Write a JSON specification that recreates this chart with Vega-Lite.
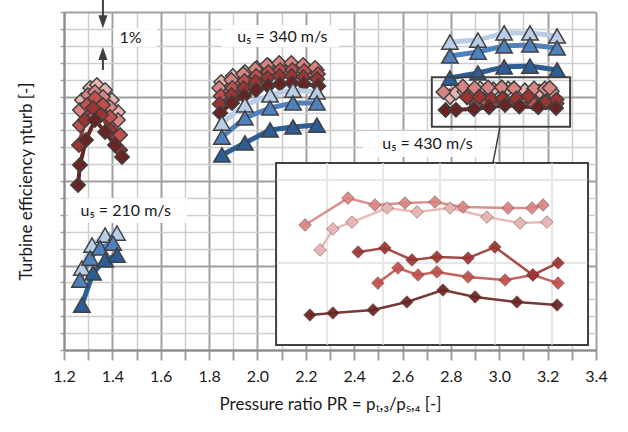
{
  "$schema": "https://vega.github.io/schema/vega-lite/v6.json",
  "width": 532,
  "height": 338,
  "autosize": {"type": "none"},
  "padding": {"left": 64, "top": 12, "right": 32, "bottom": 82},
  "background": "white",
  "config": {"view": {"stroke": null}, "font": "Lato"},
  "datasets": {
    "pts": [
      {"g":"210r1","s":"r1","k":"d","x":1.274,"y":14.79},{"g":"210r1","s":"r1","k":"d","x":1.308,"y":15.50},{"g":"210r1","s":"r1","k":"d","x":1.336,"y":15.68},{"g":"210r1","s":"r1","k":"d","x":1.370,"y":15.38},{"g":"210r1","s":"r1","k":"d","x":1.398,"y":14.79},{"g":"210r1","s":"r1","k":"d","x":1.423,"y":14.08},
      {"g":"210r2","s":"r2","k":"d","x":1.266,"y":14.20},{"g":"210r2","s":"r2","k":"d","x":1.299,"y":15.09},{"g":"210r2","s":"r2","k":"d","x":1.328,"y":15.27},{"g":"210r2","s":"r2","k":"d","x":1.361,"y":14.97},{"g":"210r2","s":"r2","k":"d","x":1.390,"y":14.38},{"g":"210r2","s":"r2","k":"d","x":1.423,"y":13.61},
      {"g":"210r3","s":"r3","k":"d","x":1.266,"y":13.31},{"g":"210r3","s":"r3","k":"d","x":1.295,"y":14.50},{"g":"210r3","s":"r3","k":"d","x":1.328,"y":14.91},{"g":"210r3","s":"r3","k":"d","x":1.361,"y":14.50},{"g":"210r3","s":"r3","k":"d","x":1.390,"y":13.79},{"g":"210r3","s":"r3","k":"d","x":1.432,"y":12.72},
      {"g":"210r4","s":"r4","k":"d","x":1.262,"y":12.13},{"g":"210r4","s":"r4","k":"d","x":1.287,"y":13.61},{"g":"210r4","s":"r4","k":"d","x":1.320,"y":14.32},{"g":"210r4","s":"r4","k":"d","x":1.353,"y":13.91},{"g":"210r4","s":"r4","k":"d","x":1.390,"y":13.02},{"g":"210r4","s":"r4","k":"d","x":1.432,"y":11.83},
      {"g":"210r5","s":"r5","k":"d","x":1.258,"y":9.76},{"g":"210r5","s":"r5","k":"d","x":1.266,"y":10.95},{"g":"210r5","s":"r5","k":"d","x":1.291,"y":12.43},{"g":"210r5","s":"r5","k":"d","x":1.328,"y":13.61},{"g":"210r5","s":"r5","k":"d","x":1.370,"y":12.90},{"g":"210r5","s":"r5","k":"d","x":1.411,"y":12.13},{"g":"210r5","s":"r5","k":"d","x":1.440,"y":11.42},

      {"g":"340r1","s":"r1","k":"d","x":1.850,"y":15.86},{"g":"340r1","s":"r1","k":"d","x":1.898,"y":16.21},{"g":"340r1","s":"r1","k":"d","x":1.948,"y":16.45},{"g":"340r1","s":"r1","k":"d","x":1.997,"y":16.69},{"g":"340r1","s":"r1","k":"d","x":2.047,"y":16.80},{"g":"340r1","s":"r1","k":"d","x":2.096,"y":16.86},{"g":"340r1","s":"r1","k":"d","x":2.146,"y":16.86},{"g":"340r1","s":"r1","k":"d","x":2.195,"y":16.75},{"g":"340r1","s":"r1","k":"d","x":2.245,"y":16.57},
      {"g":"340r2","s":"r2","k":"d","x":1.842,"y":15.50},{"g":"340r2","s":"r2","k":"d","x":1.892,"y":15.98},{"g":"340r2","s":"r2","k":"d","x":1.941,"y":16.33},{"g":"340r2","s":"r2","k":"d","x":1.991,"y":16.63},{"g":"340r2","s":"r2","k":"d","x":2.040,"y":16.86},{"g":"340r2","s":"r2","k":"d","x":2.090,"y":16.98},{"g":"340r2","s":"r2","k":"d","x":2.140,"y":16.98},{"g":"340r2","s":"r2","k":"d","x":2.189,"y":16.86},{"g":"340r2","s":"r2","k":"d","x":2.238,"y":16.69},
      {"g":"340r3","s":"r3","k":"d","x":1.848,"y":15.03},{"g":"340r3","s":"r3","k":"d","x":1.896,"y":15.50},{"g":"340r3","s":"r3","k":"d","x":1.946,"y":15.92},{"g":"340r3","s":"r3","k":"d","x":1.995,"y":16.21},{"g":"340r3","s":"r3","k":"d","x":2.045,"y":16.45},{"g":"340r3","s":"r3","k":"d","x":2.094,"y":16.57},{"g":"340r3","s":"r3","k":"d","x":2.144,"y":16.57},{"g":"340r3","s":"r3","k":"d","x":2.193,"y":16.51},{"g":"340r3","s":"r3","k":"d","x":2.250,"y":16.33},
      {"g":"340r4","s":"r4","k":"d","x":1.844,"y":14.56},{"g":"340r4","s":"r4","k":"d","x":1.893,"y":15.09},{"g":"340r4","s":"r4","k":"d","x":1.943,"y":15.50},{"g":"340r4","s":"r4","k":"d","x":1.992,"y":15.86},{"g":"340r4","s":"r4","k":"d","x":2.042,"y":16.09},{"g":"340r4","s":"r4","k":"d","x":2.092,"y":16.21},{"g":"340r4","s":"r4","k":"d","x":2.141,"y":16.21},{"g":"340r4","s":"r4","k":"d","x":2.190,"y":16.15},{"g":"340r4","s":"r4","k":"d","x":2.247,"y":16.04},
      {"g":"340r5","s":"r5","k":"d","x":1.846,"y":14.02},{"g":"340r5","s":"r5","k":"d","x":1.895,"y":14.62},{"g":"340r5","s":"r5","k":"d","x":1.945,"y":15.03},{"g":"340r5","s":"r5","k":"d","x":1.994,"y":15.38},{"g":"340r5","s":"r5","k":"d","x":2.044,"y":15.62},{"g":"340r5","s":"r5","k":"d","x":2.093,"y":15.74},{"g":"340r5","s":"r5","k":"d","x":2.143,"y":15.80},{"g":"340r5","s":"r5","k":"d","x":2.192,"y":15.74},{"g":"340r5","s":"r5","k":"d","x":2.252,"y":15.62},

      {"g":"430r1","s":"r1","k":"d","x":2.797,"y":14.97},{"g":"430r1","s":"r1","k":"d","x":2.821,"y":15.22},{"g":"430r1","s":"r1","k":"d","x":2.856,"y":15.30},{"g":"430r1","s":"r1","k":"d","x":2.921,"y":15.47},{"g":"430r1","s":"r1","k":"d","x":2.976,"y":15.42},{"g":"430r1","s":"r1","k":"d","x":3.037,"y":15.47},{"g":"430r1","s":"r1","k":"d","x":3.106,"y":15.36},{"g":"430r1","s":"r1","k":"d","x":3.167,"y":15.29},{"g":"430r1","s":"r1","k":"d","x":3.217,"y":15.30},
      {"g":"430r2","s":"r2","k":"d","x":2.769,"y":15.27},{"g":"430r2","s":"r2","k":"d","x":2.849,"y":15.59},{"g":"430r2","s":"r2","k":"d","x":2.898,"y":15.50},{"g":"430r2","s":"r2","k":"d","x":2.954,"y":15.53},{"g":"430r2","s":"r2","k":"d","x":3.010,"y":15.54},{"g":"430r2","s":"r2","k":"d","x":3.061,"y":15.48},{"g":"430r2","s":"r2","k":"d","x":3.144,"y":15.47},{"g":"430r2","s":"r2","k":"d","x":3.189,"y":15.47},{"g":"430r2","s":"r2","k":"d","x":3.209,"y":15.50},
      {"g":"430r3","s":"r3","k":"d","x":2.904,"y":14.58},{"g":"430r3","s":"r3","k":"d","x":2.941,"y":14.76},{"g":"430r3","s":"r3","k":"d","x":2.978,"y":14.67},{"g":"430r3","s":"r3","k":"d","x":3.013,"y":14.71},{"g":"430r3","s":"r3","k":"d","x":3.070,"y":14.65},{"g":"430r3","s":"r3","k":"d","x":3.139,"y":14.62},{"g":"430r3","s":"r3","k":"d","x":3.191,"y":14.67},{"g":"430r3","s":"r3","k":"d","x":3.237,"y":14.58},
      {"g":"430r4","s":"r4","k":"d","x":2.867,"y":14.95},{"g":"430r4","s":"r4","k":"d","x":2.917,"y":14.99},{"g":"430r4","s":"r4","k":"d","x":2.967,"y":14.85},{"g":"430r4","s":"r4","k":"d","x":3.013,"y":14.89},{"g":"430r4","s":"r4","k":"d","x":3.070,"y":14.88},{"g":"430r4","s":"r4","k":"d","x":3.120,"y":15.01},{"g":"430r4","s":"r4","k":"d","x":3.191,"y":14.67},{"g":"430r4","s":"r4","k":"d","x":3.237,"y":14.82},
      {"g":"430r5","s":"r5","k":"d","x":2.778,"y":14.20},{"g":"430r5","s":"r5","k":"d","x":2.821,"y":14.22},{"g":"430r5","s":"r5","k":"d","x":2.895,"y":14.26},{"g":"430r5","s":"r5","k":"d","x":2.958,"y":14.36},{"g":"430r5","s":"r5","k":"d","x":3.024,"y":14.50},{"g":"430r5","s":"r5","k":"d","x":3.083,"y":14.41},{"g":"430r5","s":"r5","k":"d","x":3.161,"y":14.36},{"g":"430r5","s":"r5","k":"d","x":3.235,"y":14.32},

      {"g":"210b1","s":"b1","k":"t","x":1.274,"y":4.85},{"g":"210b1","s":"b1","k":"t","x":1.316,"y":6.21},{"g":"210b1","s":"b1","k":"t","x":1.370,"y":6.80},{"g":"210b1","s":"b1","k":"t","x":1.419,"y":6.92},
      {"g":"210b2","s":"b2","k":"t","x":1.266,"y":4.14},{"g":"210b2","s":"b2","k":"t","x":1.308,"y":5.44},{"g":"210b2","s":"b2","k":"t","x":1.349,"y":6.04},{"g":"210b2","s":"b2","k":"t","x":1.403,"y":6.33},
      {"g":"210b3","s":"b3","k":"t","x":1.274,"y":2.66},{"g":"210b3","s":"b3","k":"t","x":1.320,"y":4.56},{"g":"210b3","s":"b3","k":"t","x":1.370,"y":5.33},{"g":"210b3","s":"b3","k":"t","x":1.419,"y":5.62},
      {"g":"340b1","s":"b1","k":"t","x":1.853,"y":13.43},{"g":"340b1","s":"b1","k":"t","x":1.948,"y":14.50},{"g":"340b1","s":"b1","k":"t","x":2.052,"y":15.09},{"g":"340b1","s":"b1","k":"t","x":2.147,"y":15.38},{"g":"340b1","s":"b1","k":"t","x":2.246,"y":15.27},
      {"g":"340b2","s":"b2","k":"t","x":1.853,"y":12.60},{"g":"340b2","s":"b2","k":"t","x":1.948,"y":13.73},{"g":"340b2","s":"b2","k":"t","x":2.052,"y":14.32},{"g":"340b2","s":"b2","k":"t","x":2.147,"y":14.62},{"g":"340b2","s":"b2","k":"t","x":2.246,"y":14.62},
      {"g":"340b3","s":"b3","k":"t","x":1.853,"y":11.54},{"g":"340b3","s":"b3","k":"t","x":1.948,"y":12.25},{"g":"340b3","s":"b3","k":"t","x":2.052,"y":13.02},{"g":"340b3","s":"b3","k":"t","x":2.147,"y":13.20},{"g":"340b3","s":"b3","k":"t","x":2.246,"y":13.31},
      {"g":"430b1","s":"b1","k":"t","x":2.796,"y":18.22},{"g":"430b1","s":"b1","k":"t","x":2.912,"y":18.34},{"g":"430b1","s":"b1","k":"t","x":3.020,"y":18.76},{"g":"430b1","s":"b1","k":"t","x":3.127,"y":18.76},{"g":"430b1","s":"b1","k":"t","x":3.239,"y":18.58},
      {"g":"430b2","s":"b2","k":"t","x":2.796,"y":17.40},{"g":"430b2","s":"b2","k":"t","x":2.912,"y":17.63},{"g":"430b2","s":"b2","k":"t","x":3.020,"y":17.99},{"g":"430b2","s":"b2","k":"t","x":3.127,"y":18.05},{"g":"430b2","s":"b2","k":"t","x":3.239,"y":17.87},
      {"g":"430b3","s":"b3","k":"t","x":2.796,"y":16.09},{"g":"430b3","s":"b3","k":"t","x":2.912,"y":16.39},{"g":"430b3","s":"b3","k":"t","x":3.020,"y":16.75},{"g":"430b3","s":"b3","k":"t","x":3.127,"y":16.80},{"g":"430b3","s":"b3","k":"t","x":3.239,"y":16.57},

      {"g":"ir1","s":"r1","k":"i","x":2.259,"y":5.92},{"g":"ir1","s":"r1","k":"i","x":2.312,"y":7.16},{"g":"ir1","s":"r1","k":"i","x":2.391,"y":7.57},{"g":"ir1","s":"r1","k":"i","x":2.536,"y":8.40},{"g":"ir1","s":"r1","k":"i","x":2.660,"y":8.17},{"g":"ir1","s":"r1","k":"i","x":2.796,"y":8.40},{"g":"ir1","s":"r1","k":"i","x":2.949,"y":7.87},{"g":"ir1","s":"r1","k":"i","x":3.086,"y":7.51},{"g":"ir1","s":"r1","k":"i","x":3.197,"y":7.57},
      {"g":"ir2","s":"r2","k":"i","x":2.197,"y":7.40},{"g":"ir2","s":"r2","k":"i","x":2.374,"y":8.99},{"g":"ir2","s":"r2","k":"i","x":2.486,"y":8.58},{"g":"ir2","s":"r2","k":"i","x":2.610,"y":8.70},{"g":"ir2","s":"r2","k":"i","x":2.734,"y":8.76},{"g":"ir2","s":"r2","k":"i","x":2.850,"y":8.46},{"g":"ir2","s":"r2","k":"i","x":3.036,"y":8.40},{"g":"ir2","s":"r2","k":"i","x":3.135,"y":8.40},{"g":"ir2","s":"r2","k":"i","x":3.181,"y":8.58},
      {"g":"ir3","s":"r3","k":"i","x":2.498,"y":3.96},{"g":"ir3","s":"r3","k":"i","x":2.581,"y":4.85},{"g":"ir3","s":"r3","k":"i","x":2.664,"y":4.44},{"g":"ir3","s":"r3","k":"i","x":2.742,"y":4.62},{"g":"ir3","s":"r3","k":"i","x":2.871,"y":4.32},{"g":"ir3","s":"r3","k":"i","x":3.024,"y":4.14},{"g":"ir3","s":"r3","k":"i","x":3.139,"y":4.44},{"g":"ir3","s":"r3","k":"i","x":3.243,"y":3.96},
      {"g":"ir4","s":"r4","k":"i","x":2.416,"y":5.80},{"g":"ir4","s":"r4","k":"i","x":2.527,"y":6.04},{"g":"ir4","s":"r4","k":"i","x":2.639,"y":5.33},{"g":"ir4","s":"r4","k":"i","x":2.742,"y":5.50},{"g":"ir4","s":"r4","k":"i","x":2.871,"y":5.44},{"g":"ir4","s":"r4","k":"i","x":2.982,"y":6.09},{"g":"ir4","s":"r4","k":"i","x":3.139,"y":4.44},{"g":"ir4","s":"r4","k":"i","x":3.243,"y":5.15},
      {"g":"ir5","s":"r5","k":"i","x":2.217,"y":2.07},{"g":"ir5","s":"r5","k":"i","x":2.312,"y":2.19},{"g":"ir5","s":"r5","k":"i","x":2.478,"y":2.37},{"g":"ir5","s":"r5","k":"i","x":2.618,"y":2.84},{"g":"ir5","s":"r5","k":"i","x":2.767,"y":3.55},{"g":"ir5","s":"r5","k":"i","x":2.900,"y":3.14},{"g":"ir5","s":"r5","k":"i","x":3.073,"y":2.84},{"g":"ir5","s":"r5","k":"i","x":3.239,"y":2.66}
    ],
    "boxes": [
      {"t":"label","x":1.853,"x2":2.337,"y":17.93,"y2":19.23},
      {"t":"label","x":1.217,"x2":1.709,"y":7.51,"y2":8.99},
      {"t":"label","x":2.436,"x2":2.962,"y":11.42,"y2":12.96},
      {"t":"label","x":1.403,"x2":1.585,"y":17.93,"y2":19.05},
      {"t":"zoom","x":2.721,"x2":3.293,"y":13.21,"y2":16.14},
      {"t":"inset","x":2.077,"x2":3.367,"y":0.30,"y2":11.07}
    ],
    "labels": [
      {"text":"u₅ = 340 m/s","x":2.103,"y":18.55},
      {"text":"u₅ = 210 m/s","x":1.455,"y":8.20},
      {"text":"u₅ = 430 m/s","x":2.703,"y":12.19},
      {"text":"1%","x":1.475,"y":18.46}
    ],
    "rules": [
      {"t":"arrow","x":1.361,"y":20.71,"x2":1.361,"y2":19.42},
      {"t":"arrow","x":1.361,"y":17.54,"x2":1.361,"y2":16.57},
      {"t":"conn","x":3.003,"y":13.21,"x2":2.974,"y2":11.07},
      {"t":"igrid","x":2.288,"y":0.32,"x2":2.288,"y2":11.05},
      {"t":"igrid","x":2.519,"y":0.32,"x2":2.519,"y2":11.05},
      {"t":"igrid","x":2.755,"y":0.32,"x2":2.755,"y2":11.05},
      {"t":"igrid","x":2.982,"y":0.32,"x2":2.982,"y2":11.05},
      {"t":"igrid","x":3.218,"y":0.32,"x2":3.218,"y2":11.05},
      {"t":"igrid","x":2.08,"y":10.06,"x2":3.364,"y2":10.06},
      {"t":"igrid","x":2.08,"y":5.15,"x2":3.364,"y2":5.15}
    ],
    "heads": [
      {"dir":"down","x":1.361,"y":19.42},
      {"dir":"up","x":1.361,"y":17.54}
    ]
  },
  "encoding": {
    "x": {
      "field": "x", "type": "quantitative",
      "scale": {"domain": [1.2, 3.4], "nice": false, "zero": false},
      "axis": {
        "values": [1.2,1.3,1.4,1.5,1.6,1.7,1.8,1.9,2.0,2.1,2.2,2.3,2.4,2.5,2.6,2.7,2.8,2.9,3.0,3.1,3.2,3.3,3.4],
        "title": "Pressure ratio  PR = pₜ,₃/pₛ,₄  [-]",
        "labelExpr": "round(datum.value*10) % 2 == 0 ? format(datum.value, '.1f') : ''",
        "labelFontSize": 16, "labelColor": "#1a1a1a", "labelPadding": 8, "labelFlush": false, "labelOverlap": false,
        "titleFontSize": 17, "titleFontWeight": "normal", "titleColor": "#1a1a1a", "titlePadding": 12,
        "grid": true,
        "gridColor": {"condition": {"test": "round(datum.value*10) % 2 == 0", "value": "#a0a0a0"}, "value": "#cdcdcd"},
        "gridWidth": {"condition": {"test": "round(datum.value*10) % 2 == 0", "value": 2}, "value": 1.5},
        "tickColor": "#a0a0a0", "tickSize": 10, "tickWidth": 2,
        "domainColor": "#8c8c8c", "domainWidth": 2
      }
    },
    "y": {
      "field": "y", "type": "quantitative",
      "scale": {"domain": [0, 20], "nice": false, "zero": false},
      "axis": {
        "values": [0,1,2,3,4,5,6,7,8,9,10,11,12,13,14,15,16,17,18,19,20],
        "labels": false,
        "title": "Turbine efficiency  ηturb  [-]",
        "titleFontSize": 17, "titleFontWeight": "normal", "titleColor": "#1a1a1a", "titlePadding": 24,
        "grid": true,
        "gridColor": {"condition": {"test": "datum.value % 5 == 0", "value": "#a0a0a0"}, "value": "#cdcdcd"},
        "gridWidth": {"condition": {"test": "datum.value % 5 == 0", "value": 2}, "value": 1.5},
        "tickColor": "#a0a0a0", "tickSize": 4, "tickWidth": 1.5,
        "domainColor": "#8c8c8c", "domainWidth": 2
      }
    }
  },
  "layer": [
    {
      "data": {"name": "pts"},
      "transform": [{"filter": "datum.k == 'd'"}],
      "mark": {"type": "line", "strokeWidth": 4},
      "encoding": {
        "detail": {"field": "g"},
        "color": {"field": "s", "type": "nominal", "legend": null,
          "scale": {"domain": ["b1","b2","b3","r1","r2","r3","r4","r5"], "range": ["#b9cde6","#4f81bd","#2c5d95","#e6b3b1","#d88482","#c0504d","#9a3532","#682422"]}}
      }
    },
    {
      "data": {"name": "pts"},
      "transform": [{"filter": "datum.k == 'd'"}],
      "mark": {"type": "point", "shape": "diamond", "filled": true, "size": 210, "stroke": "#404040", "strokeWidth": 1.5, "opacity": 1},
      "encoding": {
        "color": {"field": "s", "type": "nominal", "legend": null,
          "scale": {"domain": ["b1","b2","b3","r1","r2","r3","r4","r5"], "range": ["#b9cde6","#4f81bd","#2c5d95","#e6b3b1","#d88482","#c0504d","#9a3532","#682422"]}}
      }
    },
    {
      "data": {"name": "pts"},
      "transform": [{"filter": "datum.k == 't'"}],
      "mark": {"type": "line", "strokeWidth": 5},
      "encoding": {
        "detail": {"field": "g"},
        "color": {"field": "s", "type": "nominal", "legend": null,
          "scale": {"domain": ["b1","b2","b3","r1","r2","r3","r4","r5"], "range": ["#b9cde6","#4f81bd","#2c5d95","#e6b3b1","#d88482","#c0504d","#9a3532","#682422"]}}
      }
    },
    {
      "data": {"name": "pts"},
      "transform": [{"filter": "datum.k == 't'"}],
      "mark": {"type": "point", "shape": "triangle-up", "filled": true, "size": 270, "stroke": "#404040", "strokeWidth": 1.5, "opacity": 1},
      "encoding": {
        "color": {"field": "s", "type": "nominal", "legend": null,
          "scale": {"domain": ["b1","b2","b3","r1","r2","r3","r4","r5"], "range": ["#b9cde6","#4f81bd","#2c5d95","#e6b3b1","#d88482","#c0504d","#9a3532","#682422"]}}
      }
    },
    {
      "data": {"name": "boxes"},
      "transform": [{"filter": "datum.t == 'label'"}],
      "mark": {"type": "rect", "fill": "white", "opacity": 0.9},
      "encoding": {"x2": {"field": "x2"}, "y2": {"field": "y2"}}
    },
    {
      "data": {"name": "labels"},
      "mark": {"type": "text", "fontSize": 16, "color": "#1a1a1a", "align": "center", "baseline": "middle"},
      "encoding": {"text": {"field": "text"}}
    },
    {
      "data": {"name": "rules"},
      "transform": [{"filter": "datum.t == 'arrow'"}],
      "mark": {"type": "rule", "color": "#404040", "strokeWidth": 2},
      "encoding": {"x2": {"field": "x2"}, "y2": {"field": "y2"}}
    },
    {
      "data": {"name": "heads"},
      "transform": [{"filter": "datum.dir == 'down'"}],
      "mark": {"type": "point", "shape": "M-0.7,-1L0.7,-1L0,1Z", "filled": true, "size": 169, "color": "#404040", "opacity": 1},
      "encoding": {}
    },
    {
      "data": {"name": "heads"},
      "transform": [{"filter": "datum.dir == 'up'"}],
      "mark": {"type": "point", "shape": "M-0.7,1L0.7,1L0,-1Z", "filled": true, "size": 169, "color": "#404040", "opacity": 1},
      "encoding": {}
    },
    {
      "data": {"name": "boxes"},
      "transform": [{"filter": "datum.t == 'zoom'"}],
      "mark": {"type": "rect", "fillOpacity": 0, "stroke": "#404040", "strokeWidth": 2},
      "encoding": {"x2": {"field": "x2"}, "y2": {"field": "y2"}}
    },
    {
      "data": {"name": "rules"},
      "transform": [{"filter": "datum.t == 'conn'"}],
      "mark": {"type": "rule", "color": "#404040", "strokeWidth": 1.5},
      "encoding": {"x2": {"field": "x2"}, "y2": {"field": "y2"}}
    },
    {
      "data": {"name": "boxes"},
      "transform": [{"filter": "datum.t == 'inset'"}],
      "mark": {"type": "rect", "fill": "white", "stroke": "#404040", "strokeWidth": 2},
      "encoding": {"x2": {"field": "x2"}, "y2": {"field": "y2"}}
    },
    {
      "data": {"name": "rules"},
      "transform": [{"filter": "datum.t == 'igrid'"}],
      "mark": {"type": "rule", "color": "#e6e6e6", "strokeWidth": 2},
      "encoding": {"x2": {"field": "x2"}, "y2": {"field": "y2"}}
    },
    {
      "data": {"name": "pts"},
      "transform": [{"filter": "datum.k == 'i'"}],
      "mark": {"type": "line", "strokeWidth": 2.5, "opacity": 0.9},
      "encoding": {
        "detail": {"field": "g"},
        "color": {"field": "s", "type": "nominal", "legend": null,
          "scale": {"domain": ["b1","b2","b3","r1","r2","r3","r4","r5"], "range": ["#b9cde6","#4f81bd","#2c5d95","#e6b3b1","#d88482","#c0504d","#9a3532","#682422"]}}
      }
    },
    {
      "data": {"name": "pts"},
      "transform": [{"filter": "datum.k == 'i'"}],
      "mark": {"type": "point", "shape": "diamond", "filled": true, "size": 160, "stroke": "#5a3030", "strokeWidth": 1, "strokeOpacity": 0.5, "opacity": 0.92},
      "encoding": {
        "color": {"field": "s", "type": "nominal", "legend": null,
          "scale": {"domain": ["b1","b2","b3","r1","r2","r3","r4","r5"], "range": ["#b9cde6","#4f81bd","#2c5d95","#e6b3b1","#d88482","#c0504d","#9a3532","#682422"]}}
      }
    }
  ]
}
